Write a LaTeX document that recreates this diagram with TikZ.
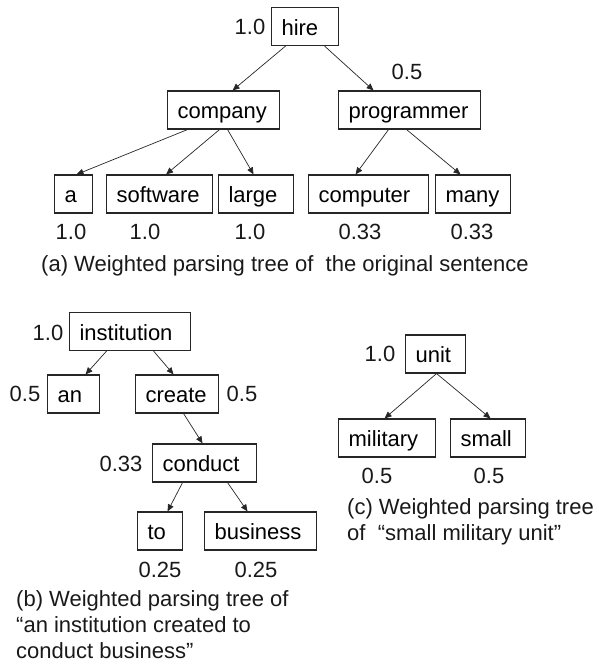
\documentclass[tikz,border=0pt]{standalone}
\usepackage{fontspec}
\setmainfont{Liberation Sans}
\usetikzlibrary{arrows.meta}
\begin{document}
\begin{tikzpicture}[x=1pt,y=-1pt,
  font=\fontsize{22}{26}\selectfont,
  bx/.style={draw=black!85, line width=1.1pt, minimum height=38pt,
    inner xsep=10pt, inner ysep=0pt, text height=20pt, text depth=3pt,
    align=left, anchor=west, text width=#1},
  lbl/.style={inner sep=0pt, text=black!90},
  edge/.style={draw=black!85, line width=0.7pt, -{Triangle[length=7pt,width=6pt]}},
  capline/.style={anchor=base west, inner sep=0pt, text=black!90}]
\useasboundingbox (0,0) rectangle (598,664);

% ---------- (a) ----------
\node[bx=47pt] (hire) at (271,26.5) {hire};
\node[bx=92pt] (company) at (167,110) {company};
\node[bx=122pt] (programmer) at (338,110) {programmer};
\node[bx=18pt] (a) at (54,194) {a};
\node[bx=86pt] (software) at (106,194) {software};
\node[bx=55pt] (large) at (218,194) {large};
\node[bx=100pt] (computer) at (308,194) {computer};
\node[bx=55pt] (many) at (435,194) {many};

\node[lbl] (whire) at (250,27) {1.0};
\node[lbl] (wprog) at (407,72) {0.5};
\node[lbl] (wa) at (71,232) {1.0};
\node[lbl] (wsoft) at (145,232) {1.0};
\node[lbl] (wlarge) at (250,232) {1.0};
\node[lbl] (wcomp) at (360,232) {0.33};
\node[lbl] (wmany) at (472,232) {0.33};

\draw[edge] ([xshift=-19.5pt]hire.south) -- ([xshift=9pt]company.north);
\draw[edge] ([xshift=19.5pt]hire.south) -- ([xshift=-36pt]programmer.north);
\draw[edge] ([xshift=-36pt]company.south) -- ([xshift=3pt]a.north);
\draw[edge] ([xshift=-4pt]company.south) -- ([xshift=6.5pt]software.north);
\draw[edge] ([xshift=4pt]company.south) -- ([xshift=-2.5pt]large.north);
\draw[edge] ([xshift=-21pt]programmer.south) -- ([xshift=-13pt]computer.north);
\draw[edge] ([xshift=-3pt]programmer.south) -- ([xshift=-12.5pt]many.north);

\node[capline] (capa) at (41,271) {(a) Weighted parsing tree of~ the original sentence};

% ---------- (b) ----------
\node[bx=101pt] (institution) at (69,331.5) {institution};
\node[bx=32pt] (an) at (47,394) {an};
\node[bx=63pt] (create) at (135,394) {create};
\node[bx=84pt] (conduct) at (152,463) {conduct};
\node[bx=25pt] (to) at (137,531) {to};
\node[bx=92pt] (business) at (204,531) {business};

\node[lbl] (winst) at (48,332.5) {1.0};
\node[lbl] (wan) at (25,393.5) {0.5};
\node[lbl] (wcreate) at (242,393.5) {0.5};
\node[lbl] (wcond) at (121,463.5) {0.33};
\node[lbl] (wto) at (160,570) {0.25};
\node[lbl] (wbus) at (256,570) {0.25};

\draw[edge] ([xshift=-23.5pt]institution.south) -- ([xshift=12pt]an.north);
\draw[edge] ([xshift=23.5pt]institution.south) -- ([xshift=-3.5pt]create.north);
\draw[edge] ([xshift=6.5pt]create.south) -- ([xshift=-2pt]conduct.north);
\draw[edge] ([xshift=-22pt]conduct.south) -- ([xshift=7.5pt]to.north);
\draw[edge] ([xshift=23pt]conduct.south) -- ([xshift=-13pt]business.north);

\node[capline] (capb1) at (16,606) {(b) Weighted parsing tree of};
\node[capline] (capb2) at (16,632) {“an institution created to};
\node[capline] (capb3) at (16,658) {conduct business”};

% ---------- (c) ----------
\node[bx=40pt] (unit) at (405,354) {unit};
\node[bx=77pt] (military) at (338,438) {military};
\node[bx=55pt] (small) at (450,438) {small};

\node[lbl] (wunit) at (380,354) {1.0};
\node[lbl] (wmil) at (377,475.5) {0.5};
\node[lbl] (wsmall) at (489,475.5) {0.5};

\draw[edge] ([xshift=1pt]unit.south) -- ([xshift=-2.5pt]military.north);
\draw[edge] ([xshift=1pt]unit.south) -- ([xshift=2.5pt]small.north);

\node[capline] (capc1) at (347,514) {(c) Weighted parsing tree};
\node[capline] (capc2) at (347,540) {of~ “small military unit”};
\end{tikzpicture}
\end{document}
